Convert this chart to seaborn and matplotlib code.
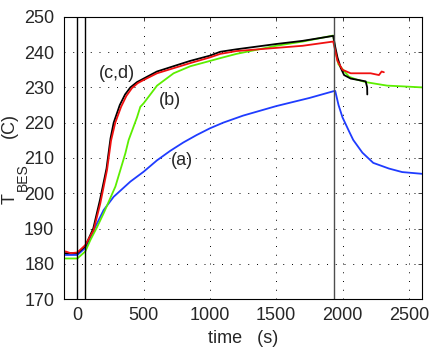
import seaborn as sns
import matplotlib.pyplot as plt

# curvas (tempo em s, temperatura em C)
t_cd_black = [-90, 0, 60, 120, 170, 220, 250, 274, 320, 360, 400, 450, 500, 600, 850, 1000, 1078, 1200, 1500,
              1700, 1930, 1945, 1962, 1987, 2012, 2062, 2120, 2175, 2186, 2187]
T_cd_black = [183, 183, 185, 190, 198, 207, 215.5, 220, 225, 228, 230, 231.5, 232.5, 234.5, 237.5, 239, 240.1,
              240.8, 242.3, 243.2, 244.6, 241.5, 238.5, 235.5, 233.5, 232.5, 232.1, 231.7, 230, 228]

t_cd_red = [-90, -50, 0, 60, 123, 173, 224, 254, 286, 330, 370, 412, 455, 500, 601, 852, 1000, 1078, 1200,
            1500, 1700, 1930, 1945, 1962, 2000, 2062, 2150, 2212, 2275, 2295, 2312]
T_cd_red = [183.5, 183, 183.2, 185.3, 189.6, 197.1, 206.6, 214.9, 220, 224.5, 227.6, 229.8, 231.2, 232.1, 234,
            236.9, 238.5, 239.5, 240.3, 241.2, 241.8, 243, 240.5, 237.5, 235, 234, 234, 234, 233.5, 234.5, 234.3]

t_b = [-90, 0, 60, 98, 150, 198, 287, 362, 387, 450, 475, 500, 601, 726, 852, 1000, 1078, 1200, 1500, 1700,
       1930, 1945, 1970, 2050, 2100, 2175, 2337, 2450, 2600]
T_b = [181.5, 181.5, 183.5, 186.7, 190.5, 194.3, 201.9, 211.3, 215.1, 221.5, 224.5, 225.5, 230.5, 234, 236,
       237.5, 238.3, 239.5, 241.8, 243, 244.7, 240.5, 236.5, 233, 232.3, 231.5, 230.5, 230.3, 230]

t_a = [-90, 0, 60, 73, 136, 198, 274, 400, 500, 600, 700, 800, 900, 1000, 1100, 1250, 1500, 1750, 1930, 1945,
       1970, 2000, 2050, 2081, 2150, 2232, 2350, 2450, 2600]
T_a = [182.5, 182.5, 184.5, 185.3, 190.5, 195.2, 199, 203.3, 206.1, 209.3, 212, 214.4, 216.5, 218.4, 220, 222,
       224.7, 227, 228.9, 229, 225, 221.5, 217.5, 215.1, 211.5, 208.6, 207, 206, 205.5]

t_marcas = [0, 60, 1935]

rotulos = ['(c,d)', '(b)', '(a)']
pos_rotulos = [(299, 234), (695, 226.2), (792, 209.4)]

sns.set_style('white')
plt.rcParams['font.family'] = ['Liberation Sans', 'DejaVu Sans']

fig = plt.figure(figsize=(4.36, 3.51), dpi=100)
ax = fig.add_axes([0.147, 0.148, 0.821, 0.804])

sns.lineplot(x=t_a, y=T_a, color='#1f3cff', lw=1.3, estimator=None, ax=ax)
sns.lineplot(x=t_b, y=T_b, color='#5cee00', lw=1.3, estimator=None, ax=ax)
sns.lineplot(x=t_cd_black, y=T_cd_black, color='black', lw=1.3, estimator=None, ax=ax)
sns.lineplot(x=t_cd_red, y=T_cd_red, color='#f01010', lw=1.3, estimator=None, ax=ax)

for tm in t_marcas:
    ax.axvline(tm, color='black' if tm < 1000 else '0.3', lw=1.0)

for txt, (px, py) in zip(rotulos, pos_rotulos):
    ax.text(px, py, txt, ha='center', va='center', fontsize=13)

ax.set_xlim(-100, 2600)
ax.set_ylim(170, 250)
ax.set_xticks([0, 500, 1000, 1500, 2000, 2500])
ax.set_yticks(range(170, 251, 10))
ax.grid(True, linestyle=(0, (1, 8)), color='black', linewidth=0.7)
ax.tick_params(direction='in', top=True, right=True, length=3, width=0.6, labelsize=13)
ax.tick_params(axis='x', pad=6)
ax.tick_params(axis='y', pad=7)
for s in ax.spines.values():
    s.set_color('black')
    s.set_linewidth(0.8)

ax.set_xlabel('time   (s)', fontsize=13, labelpad=4)

# rotulo do eixo y montado em pedacos (T, subscrito BES, unidade)
fig.text(10 / 436, 1 - 199 / 351, 'T', rotation=90, ha='center', va='center', fontsize=13)
fig.text(22.5 / 436, 1 - 177 / 351, 'BES', rotation=90, ha='center', va='center', fontsize=10)
fig.text(9 / 436, 1 - 125 / 351, '(C)', rotation=90, ha='center', va='center', fontsize=13)

fig.savefig('out.png', dpi=100)
